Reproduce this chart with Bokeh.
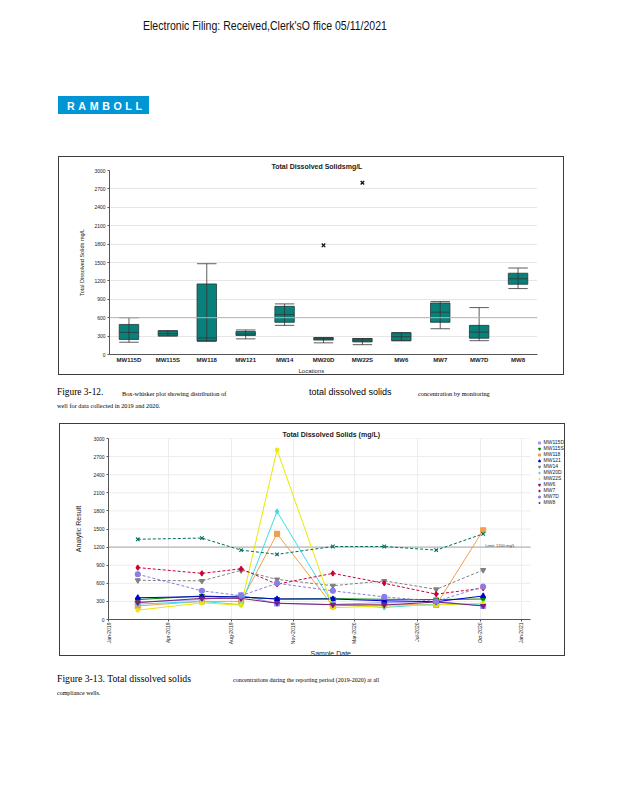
import numpy as np
import pandas as pd
from bokeh.plotting import figure
from bokeh.models import (Div, ColumnDataSource, FactorRange, Range1d, Span, Label,
                          Title, Legend, LegendItem, FixedTicker, Spacer)
from bokeh.layouts import column, row
from bokeh.transform import dodge
from bokeh.embed import file_html
from bokeh.resources import INLINE

# ---------------- Figure 3-12 data (box-whisker) ----------------
locations = ["MW115D", "MW115S", "MW118", "MW121", "MW14", "MW20D",
             "MW22S", "MW6", "MW7", "MW7D", "MW8"]
box_min = [200, 300, 215, 255, 475, 190, 160, 225, 420, 225, 1075]
box_q1 = [245, 305, 220, 310, 525, 235, 205, 225, 525, 265, 1145]
box_median = [360, 340, 270, 335, 650, 255, 235, 290, 690, 365, 1235]
box_q3 = [490, 385, 1150, 375, 785, 275, 260, 355, 840, 475, 1325]
box_max = [600, 390, 1480, 400, 825, 275, 260, 355, 865, 765, 1410]
outlier_locations = ["MW20D", "MW22S"]
outlier_values = [1780, 2800]
y_ticks1 = [0, 300, 600, 900, 1200, 1500, 1800, 2100, 2400, 2700, 3000]
ref_line1 = 600

# ---------------- Figure 3-13 data (time series) ----------------
sample_dates = ["2019-02-21", "2019-06-17", "2019-08-27", "2019-10-31",
                "2020-02-09", "2020-05-12", "2020-08-14", "2020-11-07"]
mw115d = [290, 330, 400, 265, 250, 280, 300, 225]
mw115s = [330, 390, 370, 340, 345, 335, 330, 340]
mw118 = [225, 300, 300, 1420, 225, 255, 240, 1480]
mw121 = [360, 380, 375, 340, 340, 310, 295, 390]
mw14 = [650, 640, 815, 665, 560, 640, 500, 820]
mw20d = [255, 300, 245, 1790, 250, 200, 255, 255]
mw22s = [155, 275, 240, 2810, 195, 225, 240, 270]
mw6 = [280, 350, 350, 270, 245, 240, 290, 225]
mw7 = [860, 765, 840, 585, 765, 600, 420, 520]
mw7d = [750, 475, 395, 600, 475, 375, 300, 545]
mw8 = [1330, 1350, 1150, 1080, 1210, 1210, 1150, 1420]
series_names = ["MW115D", "MW115S", "MW118", "MW121", "MW14", "MW20D",
                "MW22S", "MW6", "MW7", "MW7D", "MW8"]
series_values = [mw115d, mw115s, mw118, mw121, mw14, mw20d, mw22s, mw6, mw7, mw7d, mw8]
series_colors = ["#9999FF", "#008800", "#F0A050", "#0000CC", "#808080", "#3CDCE6",
                 "#E8E800", "#7B1F7B", "#CC0033", "#8C7CE6", "#006B5E"]
series_markers = ["square", "inverted_triangle", "square_x", "triangle", "inverted_triangle",
                  "diamond", "asterisk", "inverted_triangle", "diamond", "circle", "x"]
series_dash = ["solid", "solid", "solid", "solid", "3 2", "solid",
               "solid", "solid", "3 2", "3 2", "3 2"]
tick_dates = ["2018-12-30", "2019-04-17", "2019-08-09", "2019-11-29",
              "2020-03-19", "2020-07-11", "2020-11-02", "2021-01-15"]
tick_labels = ["Jan-2019", "Apr-2019", "Aug-2019", "Nov-2019",
               "Mar-2020", "Jul-2020", "Oct-2020", "Jan-2021"]
x_end_date = "2021-02-01"
y_ticks2 = [0, 300, 600, 900, 1200, 1500, 1800, 2100, 2400, 2700, 3000]
ref_line2 = 1200

SANS = "Liberation Sans"
SERIF = "'Liberation Serif'"
BOX_COLOR = "#0a807a"
TXT = "#1a1a1a"
VIEW_END = "2021-04-05"   # visible range end (legend sits beyond the plotted period)


def ms(d):
    return int(pd.Timestamp(d).value // 10**6)


def el(text, left, top, size, family, extra=""):
    return (f'<div style="position:absolute;left:{left}px;top:{top}px;font-family:{family};'
            f'font-size:{size}px;line-height:1;white-space:nowrap;color:#000;{extra}">{text}</div>')


# ---------------- header ----------------
header_html = (
    '<div style="position:relative;width:610px;height:148px;">'
    + el("Electronic Filing: Received,Clerk'sO ffice 05/11/2021", 143, 19.3, 13, "'Liberation Sans'",
         "transform:scaleX(0.81);transform-origin:0 0;color:#111;")
    + '<div style="position:absolute;left:58px;top:96px;width:91px;height:18px;background:#0096D6;">'
    + el("RAMBOLL", 9, 0.6, 10.7, "'Liberation Sans'",
         "font-weight:bold;color:#fff;letter-spacing:3.6px;line-height:18px;")
    + '</div></div>'
)
header = Div(text=header_html, width=610, height=148, margin=0)

# ---------------- Figure 3-12 ----------------
p1 = figure(x_range=FactorRange(*locations), y_range=Range1d(0, 3000),
            width=506, height=219, output_backend="svg", toolbar_location=None,
            min_border_left=50, min_border_right=28, min_border_top=13, min_border_bottom=22,
            styles={"border": "1px solid #3c3c3c"})
p1.outline_line_color = None
p1.xgrid.grid_line_color = None
p1.ygrid.grid_line_color = "#e6e6e6"
p1.ygrid.ticker = FixedTicker(ticks=y_ticks1)
p1.yaxis.ticker = FixedTicker(ticks=y_ticks1)
for ax in (p1.xaxis[0], p1.yaxis[0]):
    ax.axis_line_color = "#555555"
    ax.major_tick_line_color = "#555555"
    ax.minor_tick_line_color = None
    ax.major_label_text_font = SANS
    ax.major_label_text_color = TXT
    ax.axis_label_text_font = SANS
    ax.axis_label_text_color = TXT
    ax.axis_label_text_font_style = "normal"
p1.xaxis.major_tick_out = 0
p1.xaxis.major_tick_in = 0
p1.xaxis.major_label_standoff = 2
p1.xaxis.major_label_text_font_size = "6px"
p1.xaxis.major_label_text_font_style = "bold"
p1.yaxis.major_tick_out = 2
p1.yaxis.major_tick_in = 0
p1.yaxis.major_label_standoff = 2
p1.yaxis.major_label_text_font_size = "5px"
p1.yaxis.axis_label = "Total Dissolved Solids mg/L"
p1.yaxis.axis_label_text_font_size = "5.5px"
p1.yaxis.axis_label_standoff = 6

p1.add_layout(Span(location=ref_line1, dimension="width", line_color="#b4b4b4", line_width=1))

src1 = ColumnDataSource(dict(loc=locations, lo=box_min, q1=box_q1, med=box_median,
                             q3=box_q3, hi=box_max))
p1.vbar(x="loc", bottom="q1", top="q3", width=0.5, source=src1,
        fill_color=BOX_COLOR, line_color="#1d3b39", line_width=0.8)
p1.segment(x0="loc", y0="lo", x1="loc", y1="hi", source=src1, line_color="#333333", line_width=0.8)
for col in ("hi", "lo", "med"):
    p1.segment(x0=dodge("loc", -0.25, range=p1.x_range), y0=col,
               x1=dodge("loc", 0.25, range=p1.x_range), y1=col, source=src1,
               line_color="#333333", line_width=0.8)
p1.scatter(x=outlier_locations, y=outlier_values, marker="x", size=5,
           line_color="#111111", line_width=1.3)

p1.add_layout(Title(text="Total Dissolved Solidsmg/L", align="left", offset=162, text_font=SANS,
                    text_font_size="7px", text_font_style="bold", text_color=TXT, standoff=1),
              "above")
p1.add_layout(Title(text="Locations", align="left", offset=189, text_font=SANS,
                    text_font_size="6px", text_font_style="normal", text_color=TXT, standoff=0),
              "below")
# small footer note anchored at the left end of the categorical axis (synthetic coordinate 0)
p1.add_layout(Label(x=0, y=0, x_offset=-49, y_offset=-15,
                    text="Generated 3/18/2021 3:31 PM", text_font=SANS, text_font_size="4px",
                    text_color="#666666", text_baseline="middle"))

# ---------------- caption 1 ----------------
cap1_html = (
    '<div style="position:relative;width:610px;height:43px;">'
    + el("Figure 3-12.", 57, 13.1, 9.4, SERIF)
    + el("Box-whisker plot showing distribution of", 122, 15.7, 6.3, SERIF)
    + el("total dissolved solids", 309, 13.4, 9, "'Liberation Sans'")
    + el("concentration by monitoring", 418, 15.7, 6.3, SERIF)
    + el("well for data collected in 2019 and 2020.", 57, 27.7, 6.3, SERIF)
    + '</div>'
)
cap1 = Div(text=cap1_html, width=610, height=43, margin=0)

# ---------------- Figure 3-13 ----------------
p2 = figure(x_axis_type="datetime", x_range=Range1d(ms(tick_dates[0]), ms(VIEW_END)),
            y_range=Range1d(0, 3000), width=506, height=233, output_backend="svg",
            toolbar_location=None, min_border_left=48, min_border_right=1,
            min_border_top=14, min_border_bottom=38,
            styles={"border": "1px solid #3c3c3c"})
p2.outline_line_color = None
p2.xaxis.ticker = FixedTicker(ticks=[ms(d) for d in tick_dates])
p2.xaxis.major_label_overrides = {ms(d): lab for d, lab in zip(tick_dates, tick_labels)}
p2.xaxis.bounds = (ms(tick_dates[0]), ms(x_end_date))
p2.xgrid.ticker = FixedTicker(ticks=[ms(d) for d in tick_dates])
p2.yaxis.ticker = FixedTicker(ticks=y_ticks2)
p2.xgrid.grid_line_color = "#ececec"
p2.ygrid.grid_line_color = None
for ax in (p2.xaxis[0], p2.yaxis[0]):
    ax.axis_line_color = "#555555"
    ax.major_tick_line_color = "#555555"
    ax.minor_tick_line_color = None
    ax.major_label_text_font = SANS
    ax.major_label_text_color = TXT
    ax.major_label_text_font_size = "5px"
    ax.axis_label_text_font = SANS
    ax.axis_label_text_color = TXT
    ax.axis_label_text_font_style = "normal"
    ax.major_tick_in = 0
p2.xaxis.major_tick_out = 2
p2.yaxis.major_tick_out = 2
p2.xaxis.major_label_standoff = 1
p2.yaxis.major_label_standoff = 2
p2.xaxis.major_label_orientation = np.pi / 2
p2.yaxis.axis_label = "Analytic Result"
p2.yaxis.axis_label_text_font_size = "7px"
p2.yaxis.axis_label_standoff = 8

# horizontal grid lines over the plotted period only
p2.segment(x0=[ms(tick_dates[0])] * len(y_ticks2), y0=y_ticks2,
           x1=[ms(x_end_date)] * len(y_ticks2), y1=y_ticks2,
           line_color="#ececec", line_width=1)
# reference level
p2.segment(x0=[ms(tick_dates[0])], y0=[ref_line2], x1=[ms(x_end_date)], y1=[ref_line2],
           line_color="#a8a8a8", line_width=1)
p2.add_layout(Label(x=ms("2020-11-11"), y=ref_line2, text="Limit: 1200 mg/L", text_font=SANS,
                    text_font_size="4px", text_color="#444444", text_baseline="bottom",
                    y_offset=-1))

xdates = pd.to_datetime(sample_dates)
legend_items = []
for name, vals, col, mk, dash in zip(series_names, series_values, series_colors,
                                     series_markers, series_dash):
    src = ColumnDataSource(dict(x=xdates, y=vals))
    p2.line("x", "y", source=src, line_color=col, line_width=1, line_dash=dash)
    r = p2.scatter("x", "y", source=src, marker=mk, size=5, fill_color=col,
                   line_color=col, line_width=1.1)
    legend_items.append(LegendItem(label=name, renderers=[r]))

legend = Legend(items=legend_items, location="top_right", label_text_font=SANS,
                label_text_font_size="5px", label_text_color=TXT, label_height=5,
                glyph_height=5, glyph_width=5, spacing=0, padding=0, margin=1,
                label_standoff=2, border_line_color=None, background_fill_alpha=0)
p2.add_layout(legend)

p2.add_layout(Title(text="Total Dissolved Solids (mg/L)", align="left", offset=174,
                    text_font=SANS, text_font_size="7px", text_font_style="bold",
                    text_color=TXT, standoff=1), "above")
p2.add_layout(Title(text="Sample Date", align="left", offset=202, text_font=SANS,
                    text_font_size="7px", text_font_style="normal", text_color=TXT,
                    standoff=0), "below")
p2.add_layout(Label(x=ms(tick_dates[0]), y=0, x_offset=-47, y_offset=-31,
                    text="Sanitas software  Analysis Run 3/18/2021 3:31 PM",
                    text_font=SANS, text_font_size="4px", text_color="#666666",
                    text_baseline="middle"))

# ---------------- caption 2 ----------------
cap2_html = (
    '<div style="position:relative;width:610px;height:60px;">'
    + el("Figure 3-13. Total dissolved solids", 57, 17.9, 9.7, SERIF)
    + el("concentrations during the reporting period (2019-2020) at all", 233, 21, 6, SERIF)
    + el("compliance wells.", 57, 34, 6, SERIF)
    + '</div>'
)
cap2 = Div(text=cap2_html, width=610, height=60, margin=0)

page = column(header,
              Spacer(width=610, height=8, margin=0),
              row(Spacer(width=58, height=10, margin=0), p1, spacing=0, margin=0),
              cap1,
              Spacer(width=610, height=5, margin=0),
              row(Spacer(width=59, height=10, margin=0), p2, spacing=0, margin=0),
              cap2, spacing=0, margin=0)

with open("out.html", "w") as f:
    f.write(file_html(page, INLINE))
